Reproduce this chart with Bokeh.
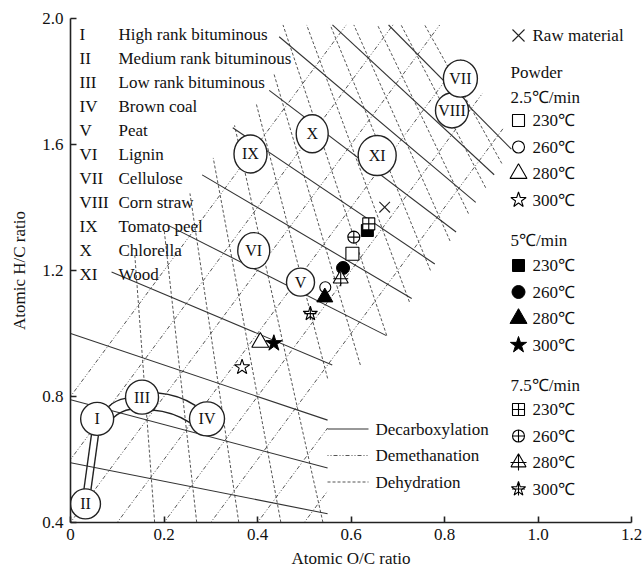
import numpy as np
from bokeh.plotting import figure
from bokeh.models import Range1d, FixedTicker, ColumnDataSource
from bokeh.core.properties import value
from bokeh.embed import file_html
from bokeh.resources import INLINE

# ---------------- data ----------------
region_labels = ["I", "II", "III", "IV", "V", "VI", "VII", "VIII", "IX", "X", "XI"]
region_names = ["High rank bituminous", "Medium rank bituminous", "Low rank bituminous",
                "Brown coal", "Peat", "Lignin", "Cellulose", "Corn straw",
                "Tomato peel", "Chlorella", "Wood"]
region_oc = [0.057, 0.032, 0.153, 0.292, 0.492, 0.392, 0.834, 0.816, 0.385, 0.517, 0.656]
region_hc = [0.729, 0.459, 0.798, 0.729, 1.163, 1.263, 1.809, 1.708, 1.570, 1.634, 1.565]

raw_oc = [0.672]
raw_hc = [1.401]
temps = ["230℃", "260℃", "280℃", "300℃"]
rate_labels = ["2.5℃/min", "5℃/min", "7.5℃/min"]
r25_oc = [0.603, 0.545, 0.406, 0.367]
r25_hc = [1.253, 1.147, 0.972, 0.893]
r5_oc = [0.635, 0.583, 0.544, 0.435]
r5_hc = [1.327, 1.208, 1.115, 0.969]
r75_oc = [0.638, 0.606, 0.578, 0.513]
r75_hc = [1.348, 1.306, 1.174, 1.063]

# reaction-line families
decarb_b = [0.59, 0.79, 1.0, 1.25, 1.5, 1.75, 2.0, 2.25, 2.5, 2.75, 3.0]   # H/C = b(1 - O/C / 2)
slope2_c = [0.8, 0.6, 0.4, 0.2, 0.0, -0.2, -0.4, -0.6]                     # H/C = 2 O/C + c
fan_x1 = [0.15, 0.225, 0.3, 0.375, 0.45, 0.525, 0.6, 0.675, 0.75, 0.825,
          0.9, 0.975, 1.05, 1.125]                                          # H/C = 4 - (3/x1) O/C
# outline of the region that carries the reaction-line grid
band_oc = [0.0, 0.55, 0.55, 0.62, 0.68, 0.95, 0.79, 0.45, 0.43, 0.35, 0.28, 0.20, 0.09, 0.0]
band_hc = [0.4, 0.4, 0.9, 0.9, 1.0, 1.6, 1.98, 1.98, 1.78, 1.66, 1.50, 1.32, 1.20, 1.02]

x_ticks = [0, 0.2, 0.4, 0.6, 0.8, 1.0, 1.2]
x_tick_labels = ["0", "0.2", "0.4", "0.6", "0.8", "1.0", "1.2"]
y_ticks = [0.4, 0.8, 1.2, 1.6, 2.0]
y_tick_labels = ["0.4", "0.8", "1.2", "1.6", "2.0"]

# ---------------- layout helpers ----------------
W, H = 642, 576
L, R, T, B = 70, 631, 18, 522
XMIN, XMAX, YMIN, YMAX = 0.0, 1.2, 0.4, 2.0
sx = (R - L) / (XMAX - XMIN)
sy = (B - T) / (YMAX - YMIN)


def px2x(px):
    return XMIN + (px - L) / sx


def py2y(py):
    return YMAX - (py - T) / sy


def x2px(x):
    return L + (x - XMIN) * sx


def y2py(y):
    return T + (YMAX - y) * sy


FONT = value("Liberation Serif")
FS = "17px"

p = figure(width=W, height=H, x_range=Range1d(XMIN, XMAX), y_range=Range1d(YMIN, YMAX),
           output_backend="svg", toolbar_location=None,
           min_border_left=L, min_border_right=W - R, min_border_top=T, min_border_bottom=H - B)
p.grid.visible = False
p.outline_line_color = None
p.background_fill_color = "white"
p.border_fill_color = "white"

for ax in (p.xaxis[0], p.yaxis[0]):
    ax.axis_line_color = "#222222"
    ax.axis_line_width = 1.6
    ax.major_tick_in = 6
    ax.major_tick_out = 0
    ax.major_tick_line_color = "#222222"
    ax.major_tick_line_width = 1.6
    ax.minor_tick_line_color = None
    ax.major_label_text_font = "Liberation Serif"
    ax.major_label_text_font_size = FS
    ax.major_label_text_color = "#111111"
    ax.axis_label_text_font = "Liberation Serif"
    ax.axis_label_text_font_size = FS
    ax.axis_label_text_font_style = "normal"
    ax.axis_label_text_color = "#111111"

p.xaxis.ticker = FixedTicker(ticks=x_ticks)
p.yaxis.ticker = FixedTicker(ticks=y_ticks)
p.xaxis.major_label_overrides = {v: s for v, s in zip(x_ticks, x_tick_labels)}
p.yaxis.major_label_overrides = {v: s for v, s in zip(y_ticks, y_tick_labels)}
p.xaxis.axis_label = "Atomic O/C ratio"
p.yaxis.axis_label = "Atomic H/C ratio"
p.xaxis.major_label_standoff = 6
p.yaxis.major_label_standoff = 7
p.xaxis.axis_label_standoff = 6
p.yaxis.axis_label_standoff = 10

# ---------------- reaction-line grid ----------------
poly = list(zip(band_oc, band_hc))


def inside(xs, ys):
    res = np.zeros(len(xs), dtype=bool)
    n = len(poly)
    j = n - 1
    for i in range(n):
        xi, yi = poly[i]
        xj, yj = poly[j]
        cond = ((yi > ys) != (yj > ys)) & (xs < (xj - xi) * (ys - yi) / (yj - yi + 1e-12) + xi)
        res ^= cond
        j = i
    return res


def segments(xs, ys):
    ins = inside(xs, ys)
    out_x, out_y = [], []
    i, n = 0, len(xs)
    while i < n:
        if ins[i]:
            j = i
            while j + 1 < n and ins[j + 1]:
                j += 1
            if j > i:
                out_x.append([float(xs[i]), float(xs[j])])
                out_y.append([float(ys[i]), float(ys[j])])
            i = j + 1
        else:
            i += 1
    return out_x, out_y


t = np.linspace(-0.05, 1.25, 3000)
dx, dy = [], []
for b in decarb_b:
    a, c = segments(t, b * (1 - t / 2.0))
    dx += a
    dy += c
s2x, s2y = [], []
for c0 in slope2_c:
    a, c = segments(t, 2 * t + c0)
    s2x += a
    s2y += c
yy = np.linspace(0.38, 2.02, 3000)
fx, fy = [], []
for x1 in fan_x1:
    a, c = segments((4 - yy) * x1 / 3.0, yy)
    fx += a
    fy += c

p.multi_line(xs=fx, ys=fy, line_color="#555555", line_width=1, line_dash="3 2")
p.multi_line(xs=s2x, ys=s2y, line_color="#555555", line_width=1, line_dash="1 2 1 2 4 2")
p.multi_line(xs=dx, ys=dy, line_color="#333333", line_width=1.1)

# ---------------- coal band connectors ----------------
circ_w = [33, 30, 33, 35, 28, 32, 34, 33, 33, 32, 38]
circ_h = [33, 30, 34, 34, 28, 36, 37, 35, 38, 38, 40]
connect = [(0, 1, 3.5, 0.0), (0, 2, 6.0, 3.0), (2, 3, 9.0, 5.0)]
for i, j, hw, bulge in connect:
    c1 = np.array([x2px(region_oc[i]), y2py(region_hc[i])])
    c2 = np.array([x2px(region_oc[j]), y2py(region_hc[j])])
    r1 = circ_w[i] / 2.0
    r2 = circ_w[j] / 2.0
    d = c2 - c1
    u = d / np.hypot(*d)
    nrm = np.array([u[1], -u[0]])
    if nrm[1] > 0:
        nrm = -nrm
    for s in (1, -1):
        p0 = c1 + u * np.sqrt(r1 ** 2 - hw ** 2) + s * nrm * hw
        p1 = c2 - u * np.sqrt(r2 ** 2 - hw ** 2) + s * nrm * hw
        cp = (p0 + p1) / 2 + nrm * bulge
        p.quadratic(x0=[px2x(p0[0])], y0=[py2y(p0[1])], x1=[px2x(p1[0])], y1=[py2y(p1[1])],
                    cx=[px2x(cp[0])], cy=[py2y(cp[1])], line_color="#222222", line_width=1.4)

# ---------------- region circles ----------------
order = [0, 1, 2, 3, 4, 5, 7, 6, 8, 9, 10]
csrc = ColumnDataSource(dict(
    x=[region_oc[k] for k in order], y=[region_hc[k] for k in order],
    w=[circ_w[k] for k in order], h=[circ_h[k] for k in order],
    t=[region_labels[k] for k in order]))
p.ellipse(x="x", y="y", width="w", height="h", width_units="screen", height_units="screen",
          source=csrc, fill_color="white", line_color="#222222", line_width=1.4)
p.text(x="x", y="y", text="t", source=csrc, text_font=FONT, text_font_size="16px",
       text_align="center", text_baseline="middle", text_color="#111111")

# ---------------- data points ----------------
OPEN = dict(line_color="black", fill_color="white", line_width=1.1)
FILL = dict(line_color="black", fill_color="black", line_width=1)
p.scatter(raw_oc, raw_hc, marker="x", size=15, line_color="#222222", line_width=1.1)

p.scatter(r25_oc[0:1], r25_hc[0:1], marker="square", size=13, **OPEN)
p.scatter(r25_oc[1:2], r25_hc[1:2], marker="circle", size=11, **OPEN)
p.scatter(r25_oc[2:3], r25_hc[2:3], marker="triangle", size=17, **OPEN)
p.scatter(r25_oc[3:4], r25_hc[3:4], marker="star", size=16, **OPEN)

p.scatter(r5_oc[0:1], r5_hc[0:1], marker="square", size=12, **FILL)
p.scatter(r5_oc[1:2], r5_hc[1:2], marker="circle", size=13, **FILL)
p.scatter(r5_oc[2:3], r5_hc[2:3], marker="triangle", size=16, **FILL)
p.scatter(r5_oc[3:4], r5_hc[3:4], marker="star", size=17, **FILL)

p.scatter(r75_oc[0:1], r75_hc[0:1], marker="square_cross", size=12, **OPEN)
p.scatter(r75_oc[1:2], r75_hc[1:2], marker="circle_cross", size=12, **OPEN)
p.scatter(r75_oc[2:3], r75_hc[2:3], marker="triangle", size=15, **OPEN)
p.scatter(r75_oc[2:3], r75_hc[2:3], marker="cross", size=15, line_color="black", line_width=1.1)
p.scatter(r75_oc[3:4], r75_hc[3:4], marker="star", size=15, **OPEN)
p.scatter(r75_oc[3:4], r75_hc[3:4], marker="cross", size=12, line_color="black", line_width=1.1)

# ---------------- region legend (top-left) ----------------
ry = [py2y(33.5 + 24.05 * k) for k in range(len(region_labels))]
p.text(x=[px2x(79)] * len(region_labels), y=ry, text=region_labels, text_font=FONT,
       text_font_size=FS, text_baseline="middle", text_align="left", text_color="#111111")
p.text(x=[px2x(118)] * len(region_names), y=ry, text=region_names, text_font=FONT,
       text_font_size=FS, text_baseline="middle", text_align="left", text_color="#111111")

# ---------------- marker legend (right) ----------------
MX, TX, HX = 518, 532, 510


def ltext(px, py, s):
    p.text(x=[px2x(px)], y=[py2y(py)], text=[s], text_font=FONT, text_font_size=FS,
           text_baseline="middle", text_align="left", text_color="#111111")


p.scatter([px2x(MX)], [py2y(35)], marker="x", size=17, line_color="#222222", line_width=1.1)
ltext(TX, 35, "Raw material")
ltext(HX, 71.5, "Powder")

groups = [(96.5, 120.0), (240.0, 265.0), (384.5, 409.0)]
steps = 26.5
for g, (hy, y0) in enumerate(groups):
    ltext(HX, hy, rate_labels[g])
    ys = [y0 + k * steps for k in range(4)]
    for k in range(4):
        ltext(TX, ys[k], temps[k])
    mx = [px2x(MX)]
    if g == 0:
        p.scatter(mx, [py2y(ys[0])], marker="square", size=12, **OPEN)
        p.scatter(mx, [py2y(ys[1])], marker="circle", size=12, **OPEN)
        p.scatter(mx, [py2y(ys[2])], marker="triangle", size=17, **OPEN)
        p.scatter(mx, [py2y(ys[3])], marker="star", size=16, **OPEN)
    elif g == 1:
        p.scatter(mx, [py2y(ys[0])], marker="square", size=12, **FILL)
        p.scatter(mx, [py2y(ys[1])], marker="circle", size=13, **FILL)
        p.scatter(mx, [py2y(ys[2])], marker="triangle", size=17, **FILL)
        p.scatter(mx, [py2y(ys[3])], marker="star", size=17, **FILL)
    else:
        p.scatter(mx, [py2y(ys[0])], marker="square_cross", size=12, **OPEN)
        p.scatter(mx, [py2y(ys[1])], marker="circle_cross", size=12, **OPEN)
        p.scatter(mx, [py2y(ys[2])], marker="triangle", size=15, **OPEN)
        p.scatter(mx, [py2y(ys[2])], marker="cross", size=16, line_color="black", line_width=1.1)
        p.scatter(mx, [py2y(ys[3])], marker="star", size=15, **OPEN)
        p.scatter(mx, [py2y(ys[3])], marker="cross", size=13, line_color="black", line_width=1.1)

# ---------------- line legend ----------------
line_items = [("Decarboxylation", None, 428.5), ("Demethanation", "1 2 1 2 4 2", 455.0),
              ("Dehydration", "3 2", 481.5)]
for name, dash, yy0 in line_items:
    kw = dict(line_color="#333333", line_width=1.1)
    if dash:
        kw["line_dash"] = dash
        kw["line_color"] = "#555555"
    p.line([px2x(327), px2x(368)], [py2y(yy0), py2y(yy0)], **kw)
    ltext(375, yy0, name)

open("out.html", "w").write(file_html(p, INLINE))
